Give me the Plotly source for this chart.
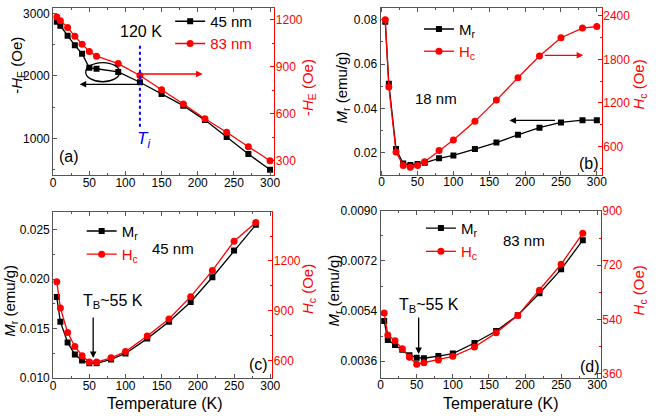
import plotly.graph_objects as go

# ---------------- data ----------------
T_a = [5, 10, 20, 30, 40, 50, 60, 90, 120, 150, 180, 210, 240, 270, 300]
HE_45 = [2871, 2805, 2645, 2491, 2357, 2131, 2116, 2065, 1900, 1710, 1525, 1293, 1021, 749, 497]
HE_83 = [1218, 1194, 1151, 1094, 1043, 998, 967, 920, 844, 754, 662, 568, 482, 390, 300]

T_b = [5, 10, 20, 30, 40, 50, 60, 80, 100, 130, 160, 190, 220, 250, 280, 300]
Mr_18 = [0.0791, 0.0511, 0.0217, 0.0152, 0.0145, 0.0149, 0.0155, 0.0175, 0.0188, 0.0217,
         0.0246, 0.0281, 0.0313, 0.0337, 0.0347, 0.0347]
Hc_18 = [2347, 1419, 521, 335, 313, 335, 388, 543, 689, 945, 1238, 1547, 1847, 2099, 2232, 2254]

T_cd = [5, 10, 20, 30, 40, 50, 60, 80, 100, 130, 160, 190, 220, 250, 280]
Mr_45 = [0.0182, 0.0157, 0.0136, 0.0124, 0.0118, 0.0115, 0.0115, 0.0119, 0.0125, 0.0140,
         0.0157, 0.0177, 0.0202, 0.0229, 0.0255]
Hc_45 = [1075, 917, 769, 685, 629, 591, 591, 617, 654, 748, 850, 985, 1142, 1319, 1431]
Mr_83 = [0.00504, 0.00436, 0.00418, 0.00401, 0.00381, 0.00372, 0.00370, 0.00378, 0.00387,
         0.00425, 0.00468, 0.00525, 0.00604, 0.00690, 0.00795]
Hc_83 = [561, 488, 469, 442, 414, 391, 396, 405, 417, 448, 495, 553, 637, 723, 826]

x_ticks = [0, 50, 100, 150, 200, 250, 300]

W, H = 660, 420
FONT = "Arial, Liberation Sans, sans-serif"
BLACK = "#000000"
RED = "#ff0000"
AX = "#555555"


def P(px, py):
    return px / W, 1 - py / H


fig = go.Figure()

blk = dict(mode="lines+markers", line=dict(color=BLACK, width=1.3),
           marker=dict(symbol="square", size=6, color=BLACK))
red = dict(mode="lines+markers", line=dict(color=RED, width=1.3),
           marker=dict(symbol="circle", size=7, color=RED))

# (a)
fig.add_trace(go.Scatter(x=T_a, y=HE_45, name="45 nm", xaxis="x", yaxis="y", legend="legend", **blk))
fig.add_trace(go.Scatter(x=T_a, y=HE_83, name='<span style="color:red">83 nm</span>', xaxis="x", yaxis="y2",
                         legend="legend2", **red))
# (b)
fig.add_trace(go.Scatter(x=T_b, y=Mr_18, name="M<sub>r</sub>", xaxis="x2", yaxis="y3", legend="legend3", **blk))
fig.add_trace(go.Scatter(x=T_b, y=Hc_18, name='<span style="color:red">H<sub>c</sub></span>', xaxis="x2",
                         yaxis="y4", legend="legend4", **red))
# (c)
fig.add_trace(go.Scatter(x=T_cd, y=Mr_45, name="M<sub>r</sub>", xaxis="x3", yaxis="y5", legend="legend5", **blk))
fig.add_trace(go.Scatter(x=T_cd, y=Hc_45, name='<span style="color:red">H<sub>c</sub></span>', xaxis="x3",
                         yaxis="y6", legend="legend6", **red))
# (d)
fig.add_trace(go.Scatter(x=T_cd, y=Mr_83, name="M<sub>r</sub>", xaxis="x4", yaxis="y7", legend="legend7", **blk))
fig.add_trace(go.Scatter(x=T_cd, y=Hc_83, name='<span style="color:red">H<sub>c</sub></span>', xaxis="x4",
                         yaxis="y8", legend="legend8", **red))


def xax(domain, anchor, rng):
    return dict(domain=domain, anchor=anchor, range=rng, tickvals=x_ticks, showline=True,
                linecolor=AX, linewidth=1, mirror="ticks", ticks="inside", ticklen=4, tickcolor=AX,
                minor=dict(ticks="inside", ticklen=2, dtick=25, tickcolor=AX),
                ticklabelstandoff=-4,
                showgrid=False, zeroline=False, tickfont=dict(size=12, color=BLACK, family=FONT))


def yl(domain, anchor, rng, tv, fmt=None, minor=None):
    d = dict(domain=domain, anchor=anchor, range=rng, tickvals=tv, showline=True, linecolor=AX,
             linewidth=1, ticks="inside", ticklen=4, tickcolor=AX, showgrid=False, zeroline=False,
             tickfont=dict(size=12, color=BLACK, family=FONT))
    if fmt:
        d["tickformat"] = fmt
    if minor:
        d["minor"] = dict(ticks="inside", ticklen=2, dtick=minor, tickcolor=AX)
    return d


def yr(over, anchor, rng, tv, minor=None):
    d = dict(overlaying=over, anchor=anchor, side="right", range=rng, tickvals=tv, showline=True,
             linecolor=RED, linewidth=1, ticks="inside", ticklen=4, tickcolor=RED, showgrid=False,
             zeroline=False, ticklabelstandoff=-2, tickfont=dict(size=12, color=RED, family=FONT))
    if minor:
        d["minor"] = dict(ticks="inside", ticklen=2, dtick=minor, tickcolor=RED)
    return d


dom_a_x = [51 / W, 276 / W]
dom_b_x = [384 / W, 609 / W]
dom_c_x = [51 / W, 274 / W]
dom_d_x = [384 / W, 608 / W]
dom_a_y = [1 - 174 / H, 1 - 1 / H]
dom_b_y = [1 - 173.3 / H, 1 - 1 / H]
dom_c_y = [1 - 384 / H, 1 - 212 / H]
dom_d_y = [1 - 383.5 / H, 1 - 211 / H]

layout = dict(
    width=W, height=H, margin=dict(l=0, r=0, t=0, b=0),
    paper_bgcolor="white", plot_bgcolor="white",
    font=dict(family=FONT, color=BLACK),
    xaxis=xax(dom_a_x, "y", [0, 306]),
    yaxis=yl(dom_a_y, "x", [410, 3090], [1000, 2000, 3000], minor=500),
    yaxis2=yr("y", "x", [208, 1275], [300, 600, 900, 1200], minor=150),
    xaxis2=xax(dom_b_x, "y3", [-1.5, 307]),
    yaxis3=yl(dom_b_y, "x2", [0.0102, 0.0853], [0.02, 0.04, 0.06, 0.08], fmt=".2f", minor=0.01),
    yaxis4=yr("y3", "x2", [211, 2510], [600, 1200, 1800, 2400], minor=300),
    xaxis3=xax(dom_c_x, "y5", [0, 303]),
    yaxis5=yl(dom_c_y, "x3", [0.010, 0.0268], [0.010, 0.015, 0.020, 0.025], fmt=".3f", minor=0.0025),
    yaxis6=yr("y5", "x3", [494, 1495], [600, 900, 1200, 1500], minor=150),
    xaxis4=xax(dom_d_x, "y7", [0, 305]),
    yaxis7=yl(dom_d_y, "x4", [0.0030, 0.0090], [0.0036, 0.0054, 0.0072, 0.0090], fmt=".4f", minor=0.0009),
    yaxis8=yr("y7", "x4", [346, 900], [360, 540, 720, 900], minor=90),
    showlegend=True,
)


def leg(px, py):
    x, y = P(px, py)
    return dict(x=x, y=y, xanchor="left", yanchor="middle", bgcolor="rgba(0,0,0,0)",
                font=dict(size=15, family=FONT, color=BLACK))


# one legend per item so each entry can be placed like the reference
leg_pos = [(170, 15), (170, 38), (423, 23), (423, 46), (80, 232), (80, 256), (425, 229), (425, 253)]
for i, (lx, ly) in enumerate(leg_pos):
    key = "legend" if i == 0 else "legend%d" % (i + 1)
    layout[key] = leg(lx, ly)
fig.update_layout(**layout)

ann = []


def txt(px, py, s, size=15, color=BLACK, angle=0):
    x, y = P(px, py)
    ann.append(dict(x=x, y=y, xref="paper", yref="paper", text=s, showarrow=False, textangle=angle,
                    font=dict(size=size, color=color, family=FONT), xanchor="center", yanchor="middle"))


def arrow(hx, hy, ax, ay, color):
    x, y = P(hx, hy)
    ann.append(dict(x=x, y=y, xref="paper", yref="paper", text="", showarrow=True, ax=ax, ay=ay,
                    arrowhead=2, arrowsize=1, arrowwidth=1.3, arrowcolor=color))


# panel texts
txt(140, 25, "120 K", 16)
txt(143, 138, "<i>T<sub>i</sub></i>", 17, "#0000ff")
txt(67, 155, "(a)", 16)
txt(440, 95, "18 nm", 15)
txt(596, 162, "(b)", 16)
txt(173, 250, "45 nm", 15)
txt(260, 370, "(c)", 16)
txt(530, 242, "83 nm", 15)
txt(597, 372, "(d)", 16)
txt(112, 305, "T<sub>B</sub>~55 K", 16)
txt(433, 309, "T<sub>B</sub>~55 K", 16)

# axis titles
txt(15, 60, "-<i>H</i><sub>E</sub> (Oe)", 15, BLACK, -90)
txt(310, 83, "-<i>H</i><sub>E</sub> (Oe)", 15, RED, -90)
txt(345, 83, "<i>M</i><sub>r</sub> (emu/g)", 15, BLACK, -90)
txt(647, 80, "<i>H</i><sub>c</sub> (Oe)", 15, RED, -90)
txt(8, 304, "<i>M</i><sub>r</sub> (emu/g)", 15, BLACK, -90)
txt(310, 292, "<i>H</i><sub>c</sub> (Oe)", 15, RED, -90)
txt(337, 293, "<i>M</i><sub>r</sub> (emu/g)", 15, BLACK, -90)
txt(647, 293, "<i>H</i><sub>c</sub> (Oe)", 15, RED, -90)
txt(165, 410, "Temperature (K)", 16)
txt(506, 410, "Temperature (K)", 16)

# arrows
arrow(78, 80, 60, 0, BLACK)
arrow(203, 69.3, -65, 0, RED)
arrow(515, 117.3, 47, 0, BLACK)
arrow(590, 50, -40, 0, RED)
arrow(91.7, 363, 0, -42, BLACK)
arrow(422.7, 359, 0, -38, BLACK)

fig.update_layout(annotations=ann)

# shapes: T_i dotted line and ellipse
y0p, y1p = 1 - 124 / H, 1 - 38 / H
fig.add_shape(type="line", xref="x", yref="paper", x0=120, x1=120, y0=y0p, y1=y1p,
              line=dict(color="#0000ff", width=2, dash="dot"))
fig.add_shape(type="circle", xref="x", yref="y", x0=45, x1=92, y0=1908, y1=2215,
              line=dict(color=BLACK, width=1.3))

fig.write_html("out.html", config={"displayModeBar": False},
               post_script="document.body.style.margin='0';document.body.style.overflow='hidden';")
